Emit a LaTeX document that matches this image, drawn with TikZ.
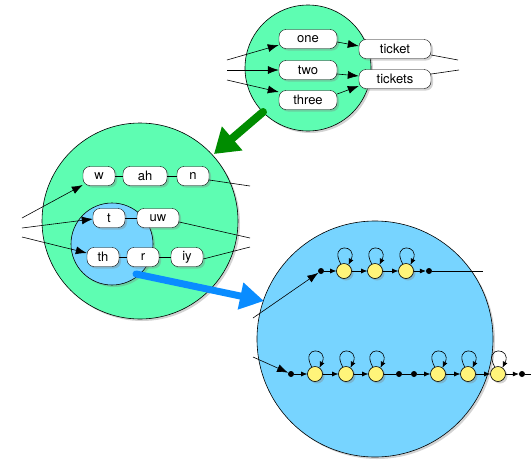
\documentclass[tikz,border=0pt]{standalone}
\usepackage{fontspec}
\setmainfont{TeX Gyre Heros}
\usetikzlibrary{arrows.meta,shadows}
\definecolor{mint}{RGB}{94,253,178}
\definecolor{sky}{RGB}{119,212,255}
\definecolor{yel}{RGB}{255,244,122}
\definecolor{darkgr}{RGB}{0,140,0}
\definecolor{brightbl}{RGB}{10,140,255}
\tikzset{
  shad/.style={drop shadow={opacity=0.35,shadow xshift=2pt,shadow yshift=-2pt}},
  bubble/.style={circle,draw,line width=0.6pt,shad},
  word/.style={draw,rounded corners=7pt,fill=white,minimum height=19pt,inner sep=0pt,font=\fontsize{13}{14}\selectfont,shad},
  st/.style={circle,draw,fill=yel,minimum size=15pt,inner sep=0pt,line width=0.6pt,shad},
  dot/.style={circle,fill=black,minimum size=6pt,inner sep=0pt},
  arr/.style={-{Latex[length=11pt,width=8pt]},line width=0.6pt},
  sarr/.style={-{Latex[length=6pt,width=5pt]},line width=0.6pt},
  ln/.style={line width=0.6pt},
}
\begin{document}
\begin{tikzpicture}[x=1pt,y=-1pt]
\useasboundingbox (0,0) rectangle (531,459);
% circles
\node[bubble,fill=mint,minimum size=126pt] (topc) at (308,68) {};
\node[bubble,fill=mint,minimum size=196pt] (midc) at (140,221) {};
\node[bubble,fill=sky,minimum size=82pt] (innc) at (112,244) {};
\node[bubble,fill=sky,minimum size=236pt] (bigc) at (375,339) {};
% big arrows
\coordinate (g1) at (263,112);
\coordinate (g2) at (214,154);
\draw[darkgr,line width=8pt,line cap=round,-{Triangle[length=24pt,width=30pt]}] (g1) -- (g2);
\coordinate (b1) at (136,274);
\coordinate (b2) at (264,301);
\draw[brightbl,line width=7pt,line cap=round,-{Triangle[length=24pt,width=26pt]}] (b1) -- (b2);
% top words
\node[word,minimum width=58pt] (one) at (308,39) {one};
\node[word,minimum width=58pt] (two) at (308,70) {two};
\node[word,minimum width=58pt] (three) at (308,100) {three};
\node[word,minimum width=72pt] (ticket) at (395,49) {ticket};
\node[word,minimum width=72pt] (tickets) at (395,79) {tickets};
\coordinate (ti1) at (227,60);
\coordinate (ti2) at (227,70);
\coordinate (ti3) at (227,80);
\coordinate (to1) at (458,60);
\coordinate (to2) at (459,70);
\draw[arr] (ti1) -- (one.west|-0,45);
\draw[arr] (ti2) -- (two.west);
\draw[arr] (ti3) -- (three.west|-0,92);
\draw[arr] (one.east|-0,42) -- (ticket.west|-0,46);
\draw[arr] (two.east|-0,74) -- (tickets.west|-0,76);
\draw[arr] (three.east|-0,94) -- (tickets.west|-0,86);
\draw[ln] (ticket.east|-0,55) -- (to1);
\draw[ln] (tickets.east|-0,74) -- (to2);
% middle words
\node[word,minimum width=32pt] (w) at (99,176) {w};
\node[word,minimum width=44pt] (ah) at (145,176) {ah};
\node[word,minimum width=32pt] (n) at (193,176) {n};
\node[word,minimum width=32pt] (t) at (109,218) {t};
\node[word,minimum width=42pt] (uw) at (158,218) {uw};
\node[word,minimum width=32pt] (th) at (103,257) {th};
\node[word,minimum width=32pt] (r) at (143,257) {r};
\node[word,minimum width=32pt] (iy) at (187,257) {iy};
\draw[ln] (w) -- (ah); \draw[ln] (ah) -- (n);
\draw[ln] (t) -- (uw);
\draw[ln] (th) -- (r); \draw[ln] (r) -- (iy);
\coordinate (mi1) at (22,218);
\coordinate (mi2) at (22,228);
\coordinate (mi3) at (22,237);
\coordinate (mo1) at (250,186);
\coordinate (mo2) at (250,238);
\coordinate (mo3) at (250,247);
\draw[arr] (mi1) -- (w.west|-0,185);
\draw[arr] (mi2) -- (t.west|-0,219);
\draw[arr] (mi3) -- (th.west|-0,253);
\draw[ln] (n.east|-0,180) -- (mo1);
\draw[ln] (uw.east|-0,222) -- (mo2);
\draw[ln] (iy.east|-0,259) -- (mo3);
% top chain
\node[dot] (a0) at (321,271) {};
\node[st] (a1) at (344,271) {};
\node[st] (a2) at (375,271) {};
\node[st] (a3) at (406,271) {};
\node[dot] (a4) at (429,271) {};
\coordinate (ai) at (253,318);
\coordinate (ao) at (483,271);
\draw[arr] (ai) -- (a0);
\draw[sarr] (a0) -- (a1);
\draw[sarr] (a1) -- (a2);
\draw[sarr] (a2) -- (a3);
\draw[sarr] (a3) -- (a4);
\draw[ln] (a4) -- (ao);
% bottom chain
\node[dot] (c0) at (291,374) {};
\node[st] (c1) at (315,374) {};
\node[st] (c2) at (346,374) {};
\node[st] (c3) at (376,374) {};
\node[dot] (c4) at (399,374) {};
\node[dot] (c5) at (414,374) {};
\node[st] (c6) at (438,374) {};
\node[st] (c7) at (468,374) {};
\node[st] (c8) at (498,374) {};
\node[dot] (c9) at (522,374) {};
\coordinate (ci) at (253,357);
\coordinate (co) at (531,374);
\draw[arr] (ci) -- (c0);
\draw[sarr] (c0) -- (c1);
\draw[sarr] (c1) -- (c2);
\draw[sarr] (c2) -- (c3);
\draw[ln] (c3) -- (c4);
\draw[ln] (c4) -- (c5);
\draw[sarr] (c5) -- (c6);
\draw[sarr] (c6) -- (c7);
\draw[sarr] (c7) -- (c8);
\draw[sarr] (c8) -- (c9);
\draw[ln] (c9) -- (co);
% self loops
\foreach \s in {a1,a2,a3,c1,c2,c3,c6,c7,c8}{
  \draw[sarr] (\s.115) .. controls +(-12,-22) and +(10,-20) .. (\s.55);
}
\end{tikzpicture}
\end{document}
